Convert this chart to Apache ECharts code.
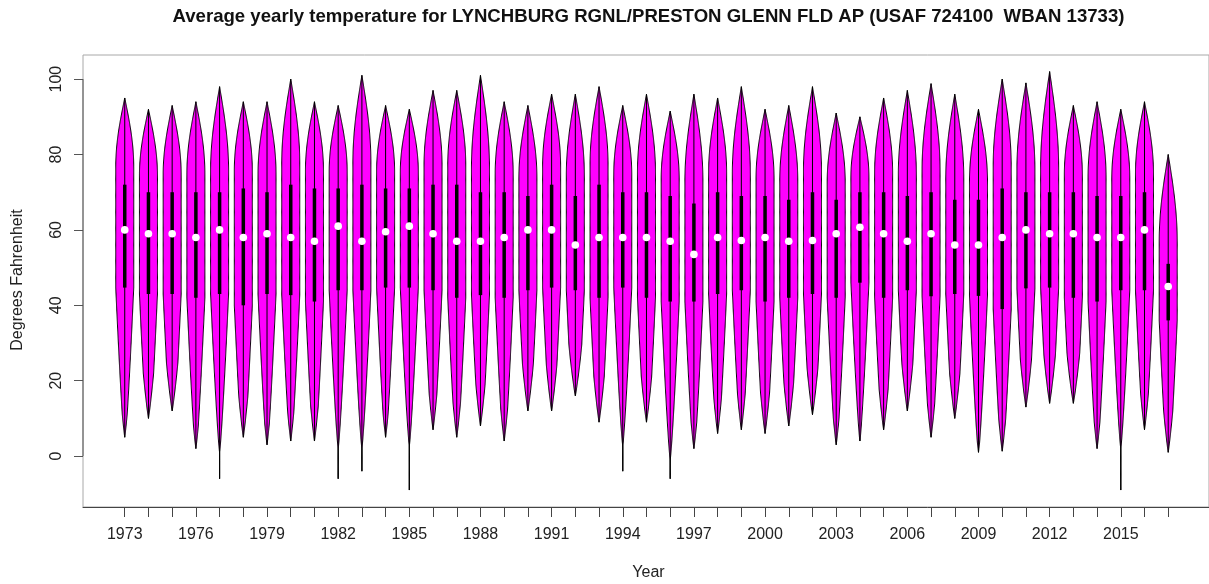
<!DOCTYPE html>
<html>
<head>
<meta charset="utf-8">
<script src="https://cdn.jsdelivr.net/npm/echarts@6/dist/echarts.min.js"></script>
<style>
  html, body { margin: 0; padding: 0; background: #fff; }
  #chart { width: 1209px; height: 584px; }
</style>
</head>
<body>
<div id="chart"></div>
<script>
// Daily temperature summaries per year (degrees Fahrenheit)
const years = [1973,1974,1975,1976,1977,1978,1979,1980,1981,1982,1983,1984,1985,1986,1987,1988,1989,1990,1991,1992,1993,1994,1995,1996,1997,1998,1999,2000,2001,2002,2003,2004,2005,2006,2007,2008,2009,2010,2011,2012,2013,2014,2015,2016,2017];
const maxTemp = [95,92,93,94,98,94,94,100,94,93,101,93,92,97,97,101,94,93,96,96,98,93,96,91.5,96,95,98,92,93,98,91,90,95,97,98.8,96,92,100,99,102,93,94,92,94,80];
const minTemp = [5,10,12,2,-6,5,3,4,4,-6,-4,5,-9,7,5,8,4,12,12,16,9,-4,9,-6,2,6,7,6,8,11,3,4,7,12,5,10,1,1.3,13,14,14,2,-9,7,1];
const q1Temp = [44.7,43,43,42,43,40,43,42.7,41,44,44,44.7,44.7,44,42,42.7,42,44,44.7,44,42,44.7,42,41,41,43,44,41,42,43,42,46,42,44,42.4,43,42.5,39,44.5,44.7,42,41,44,44,36];
const medianTemp = [60,59,59,58,60,58,59,58,57,61,57,59.5,61,59,57,57,58,60,60,56,58,58,58,57,53.5,58,57.2,58,57,57.2,59,60.7,59,57,59,56,56,58,60,59,59,58,58,60,45];
const q3Temp = [72,70,70,70,70,71,70,72,71,71,72,71,71,72,72,70,70,69,72,69,72,70,70,69,67,70,69,69,68,70,68,70,70,69,70,68,68,71,70,70,70,69,69,70,51];

// Axis ticks and labels
const yTickValues = [0, 20, 40, 60, 80, 100];
const xLabelYears = [1973,1976,1979,1982,1985,1988,1991,1994,1997,2000,2003,2006,2009,2012,2015];

const FONT = "'Liberation Sans', Arial, Helvetica, sans-serif";
const X_MIN = 1971.24, X_MAX = 2018.72;
const Y_MIN = -13.5, Y_MAX = 106.4;

const violinData = years.map((y, i) => [y, minTemp[i], q1Temp[i], medianTemp[i], q3Temp[i], maxTemp[i]]);

// Relative half-width of a violin at temperature v
function profile(v, mn, q1, q3, mx) {
  if (v >= q3) {
    const t = (mx - v) / Math.max(mx - q3, 1e-6);
    return Math.sin(Math.PI / 2 * Math.min(1, t / 0.8));
  }
  if (v <= q1) {
    // cold tail: narrows with distance below q1 and closes at the minimum
    const d = q1 - v;
    const wAbs = Math.pow(Math.max(0, 1 - d / 42), 0.8);
    const s = Math.max(0, (v - mn) / Math.max(q1 - mn, 1e-6));
    const wRel = Math.pow(Math.sin(Math.PI / 2 * s), 0.9);
    return Math.min(wAbs, wRel);
  }
  return 1;
}

function renderViolin(params, api) {
  const x = api.value(0), mn = api.value(1), q1 = api.value(2),
        md = api.value(3), q3 = api.value(4), mx = api.value(5);
  const halfW = api.size([0.38, 0])[0];
  const cx = api.coord([x, md])[0];
  const right = [], left = [];
  const step = 0.25;
  for (let v = mx; v > mn; v -= step) {
    const py = api.coord([x, v])[1];
    const w = profile(v, mn, q1, q3, mx) * halfW;
    right.push([cx + w, py]);
    left.push([cx - w, py]);
  }
  const pyMin = api.coord([x, mn])[1];
  right.push([cx, pyMin]);
  left.push([cx, pyMin]);
  const points = right.concat(left.reverse());
  const pTop = api.coord([x, mx]);
  const pBot = api.coord([x, mn]);
  const pQ3 = api.coord([x, q3]);
  const pQ1 = api.coord([x, q1]);
  const pMd = api.coord([x, md]);
  return {
    type: 'group',
    children: [
      { type: 'polygon', shape: { points: points },
        style: { fill: '#ff00ff', stroke: '#000', lineWidth: 1 } },
      { type: 'line', shape: { x1: cx, y1: pTop[1], x2: cx, y2: pBot[1] },
        style: { stroke: '#000', lineWidth: 1 } },
      { type: 'rect', shape: { x: cx - 1.75, y: pQ3[1], width: 3.5, height: pQ1[1] - pQ3[1] },
        style: { fill: '#000' } },
      { type: 'circle', shape: { cx: cx, cy: pMd[1], r: 3.8 },
        style: { fill: '#fff' } }
    ]
  };
}

const chart = echarts.init(document.getElementById('chart'), null, { renderer: 'canvas' });
chart.setOption({
  animation: false,
  backgroundColor: '#fff',
  grid: { left: 83, right: -4, top: 55, bottom: 77, show: true, borderColor: '#a8a8a8', borderWidth: 1 },
  xAxis: {
    type: 'value', min: X_MIN, max: X_MAX,
    splitLine: { show: false },
    axisLine: { show: true, onZero: false, lineStyle: { color: '#444', width: 1 } },
    axisTick: { show: true, customValues: years, length: 10, lineStyle: { color: '#444' } },
    axisLabel: { customValues: xLabelYears, margin: 20, fontSize: 16, color: '#222', fontFamily: FONT,
      formatter: v => String(Math.round(v)) }
  },
  yAxis: {
    type: 'value', min: Y_MIN, max: Y_MAX,
    splitLine: { show: false },
    axisLine: { show: false },
    axisTick: { show: true, customValues: yTickValues, length: 9, lineStyle: { color: '#555' } },
    axisLabel: { customValues: yTickValues, rotate: 90, margin: 18, fontSize: 16, color: '#222', fontFamily: FONT }
  },
  graphic: [
    { type: 'text', x: 648.5, y: 17,
      style: { text: 'Average yearly temperature for LYNCHBURG RGNL/PRESTON GLENN FLD AP (USAF 724100  WBAN 13733)',
        font: 'bold 18.6px ' + FONT, fill: '#111', textAlign: 'center', textVerticalAlign: 'middle' } },
    { type: 'text', x: 648.5, y: 573,
      style: { text: 'Year', font: '16px ' + FONT, fill: '#222', textAlign: 'center', textVerticalAlign: 'middle' } },
    { type: 'text', x: 18, y: 280, rotation: Math.PI / 2,
      style: { text: 'Degrees Fahrenheit', font: '16px ' + FONT, fill: '#222', textAlign: 'center', textVerticalAlign: 'middle' } }
  ],
  series: [
    {
      // left axis line spanning the labelled range
      type: 'line', data: [[X_MIN, yTickValues[0]], [X_MIN, yTickValues[yTickValues.length - 1]]],
      symbol: 'none', silent: true, lineStyle: { color: '#555', width: 1 }
    },
    {
      type: 'custom', renderItem: renderViolin, data: violinData,
      encode: { x: 0, y: [1, 2, 3, 4, 5] }, silent: true
    }
  ]
});
</script>
</body>
</html>
